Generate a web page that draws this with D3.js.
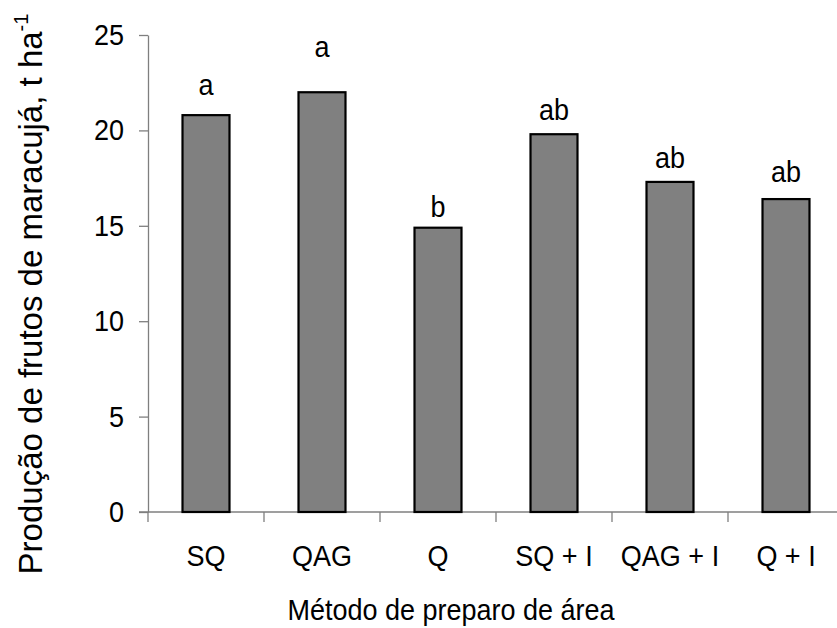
<!DOCTYPE html>
<html>
<head>
<meta charset="utf-8">
<script src="https://cdn.jsdelivr.net/npm/d3@7"></script>
<style>
  body { margin: 0; background: #fff; }
  svg { display: block; font-family: "Liberation Sans", Arial, sans-serif; }
</style>
</head>
<body>
<div id="chart"></div>
<script>
// categories, yields (t/ha) and the Tukey letters above each bar
const categories = ["SQ", "QAG", "Q", "SQ + I", "QAG + I", "Q + I"];
const yields = [20.8, 22.0, 14.9, 19.8, 17.3, 16.4];
const letters = ["a", "a", "b", "ab", "ab", "ab"];
// height (same units as y) where each letter sits
const letterLevels = [21.85, 23.85, 15.45, 20.55, 18.05, 17.3];
const yTicks = [0, 5, 10, 15, 20, 25];

const width = 837;
const height = 628;
const margin = { top: 35, left: 148, bottom: 116 };
const stretch = 1.09; // the original glyphs are a bit taller than wide

const svg = d3.select("#chart")
    .append("svg")
    .attr("width", width)
    .attr("height", height);

// x runs a bit past the right edge like in the original
const x = d3.scaleBand()
    .domain(categories)
    .range([margin.left, margin.left + 116 * categories.length])
    .paddingInner(0.595)
    .paddingOuter(0.2975);

const y = d3.scaleLinear()
    .domain([0, 25])
    .range([height - margin.bottom, margin.top]);

const axisColor = "#7f7f7f";

// y axis
const yAxis = svg.append("g")
    .attr("transform", `translate(${margin.left},0)`)
    .call(d3.axisLeft(y).tickValues(yTicks).tickSize(9).tickPadding(15).tickSizeOuter(0));
yAxis.select(".domain").attr("stroke", axisColor).attr("stroke-width", 1.3);
yAxis.selectAll(".tick line").attr("stroke", axisColor).attr("stroke-width", 1.3);
yAxis.selectAll(".tick text")
    .attr("fill", "#000")
    .attr("transform", `scale(1,${stretch})`)
    .style("font-size", "27px")
    .style("font-family", "Liberation Sans, Arial, sans-serif");

// x axis: ticks at the category boundaries
const xAxisG = svg.append("g").attr("class", "x-axis");
xAxisG.append("line")
    .attr("x1", margin.left - 9)
    .attr("x2", x.range()[1])
    .attr("y1", y(0))
    .attr("y2", y(0))
    .attr("stroke", axisColor)
    .attr("stroke-width", 1.3);
xAxisG.selectAll(".xtick")
    .data(categories)
    .enter()
    .append("line")
    .attr("class", "xtick")
    .attr("x1", (d, i) => margin.left + x.step() * i)
    .attr("x2", (d, i) => margin.left + x.step() * i)
    .attr("y1", y(0))
    .attr("y2", y(0) + 10)
    .attr("stroke", axisColor)
    .attr("stroke-width", 1.3);
xAxisG.selectAll(".xlabel")
    .data(categories)
    .enter()
    .append("text")
    .attr("class", "xlabel")
    .attr("transform", d => `translate(${x(d) + x.bandwidth() / 2},${y(0) + 54}) scale(1,${stretch})`)
    .attr("text-anchor", "middle")
    .style("font-size", "27px")
    .text(d => d);

// bars
svg.append("g")
    .selectAll("rect")
    .data(yields)
    .enter()
    .append("rect")
    .attr("x", (d, i) => x(categories[i]))
    .attr("y", d => y(d))
    .attr("width", x.bandwidth())
    .attr("height", d => y(0) - y(d))
    .attr("fill", "#808080")
    .attr("stroke", "#000")
    .attr("stroke-width", 2.2);

// letters over the bars
svg.append("g")
    .selectAll("text")
    .data(letters)
    .enter()
    .append("text")
    .attr("transform", (d, i) => `translate(${x(categories[i]) + x.bandwidth() / 2},${y(letterLevels[i])}) scale(1,${stretch})`)
    .attr("text-anchor", "middle")
    .style("font-size", "27px")
    .text(d => d);

// axis titles
svg.append("text")
    .attr("transform", `translate(451,620) scale(1,${stretch})`)
    .attr("text-anchor", "middle")
    .style("font-size", "27px")
    .text("Método de preparo de área");

const yTitle = svg.append("text")
    .attr("transform", "translate(42,294) rotate(-90)")
    .attr("text-anchor", "middle")
    .style("font-size", "33px");
yTitle.append("tspan").text("Produção de frutos de maracujá, t ha");
yTitle.append("tspan").attr("dy", -14).style("font-size", "20px").text("-1");
</script>
</body>
</html>
